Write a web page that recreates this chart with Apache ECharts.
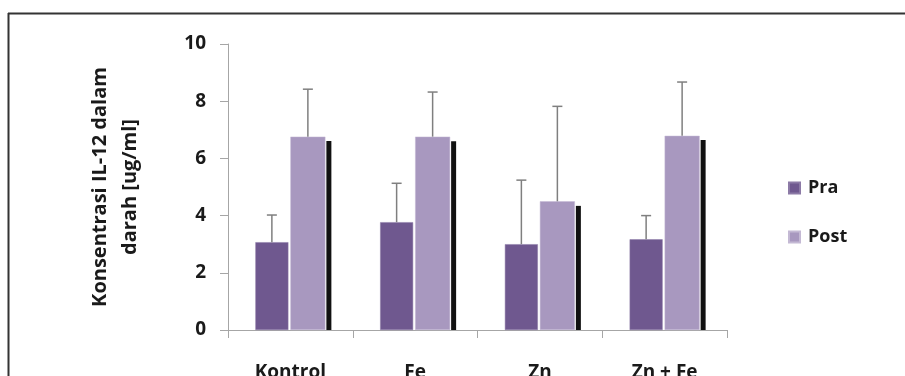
<!DOCTYPE html>
<html>
<head>
<meta charset="utf-8">
<script src="https://cdn.jsdelivr.net/npm/echarts@6/dist/echarts.min.js"></script>
<style>html,body{margin:0;padding:0;background:#fff;}#c{width:905px;height:376px;}</style>
</head>
<body>
<div id="c"></div>
<script>
// ---- data ----
const categories = ['Kontrol', 'Fe', 'Zn', 'Zn + Fe'];
const praMean = [3.07, 3.77, 3.0, 3.17];
const praSD = [0.95, 1.36, 2.24, 0.83];
const postMean = [6.76, 6.76, 4.5, 6.79];
const postSD = [1.66, 1.56, 3.32, 1.88];
const postShadow = [6.61, 6.6, 4.34, 6.64];
const yTicks = [0, 2, 4, 6, 8, 10];

// ---- style ----
const PRA_W = 33, POST_W = 35, GAP = 2, SHADOW_W = 5;
const FONT = '"Open Sans", sans-serif';
const TXT = '#1a1a1a';

const chart = echarts.init(document.getElementById('c'), null, {renderer: 'canvas'});

function errItem(offset) {
  return function (params, api) {
    const i = api.value(0);
    const top = api.coord([i, api.value(1) + api.value(2)]);
    const base = api.coord([i, api.value(1)]);
    const x = top[0] + offset;
    const style = {stroke: '#7f7f7f', lineWidth: 1.5};
    return {
      type: 'group',
      children: [
        {type: 'line', shape: {x1: x, y1: base[1], x2: x, y2: top[1]}, style},
        {type: 'line', shape: {x1: x - 5, y1: top[1], x2: x + 5, y2: top[1]}, style}
      ]
    };
  };
}

const total = PRA_W + GAP + POST_W;
const praCenter = -total / 2 + PRA_W / 2;
const postCenter = -total / 2 + PRA_W + GAP + POST_W / 2;

chart.setOption({
  animation: false,
  backgroundColor: '#fff',
  graphic: [
    {type: 'line', shape: {x1: 8, y1: 13.5, x2: 905, y2: 13.5}, style: {stroke: '#333', lineWidth: 2}},
    {type: 'line', shape: {x1: 8.5, y1: 13, x2: 8.5, y2: 376}, style: {stroke: '#333', lineWidth: 2}}
  ],
  grid: {left: 228, right: 178, top: 44, bottom: 46, containLabel: false, outerBoundsMode: 'none'},
  legend: {
    data: ['Pra', 'Post'],
    orient: 'vertical',
    left: 783,
    top: 173,
    itemWidth: 11,
    itemHeight: 11,
    itemGap: 29,
    icon: 'rect',
    textStyle: {fontFamily: FONT, fontWeight: 'bold', fontSize: 18, color: TXT, lineHeight: 20, padding: [0, 0, 0, 3]}
  },
  xAxis: {
    type: 'category',
    data: categories,
    axisLine: {lineStyle: {color: '#a6a6a6', width: 1}},
    axisTick: {show: true, length: 8, lineStyle: {color: '#a6a6a6'}},
    axisLabel: {margin: 33, fontFamily: FONT, fontWeight: 'bold', fontSize: 19, color: TXT}
  },
  yAxis: {
    type: 'value',
    min: yTicks[0],
    max: yTicks[yTicks.length - 1],
    interval: 2,
    name: 'Konsentrasi IL-12 dalam\ndarah [ug/ml]',
    nameLocation: 'middle',
    nameGap: 83,
    nameTextStyle: {fontFamily: FONT, fontWeight: 'bold', fontSize: 20, color: TXT, lineHeight: 30, align: 'center'},
    axisLine: {show: true, lineStyle: {color: '#a6a6a6', width: 1}},
    axisTick: {show: true, length: 8, lineStyle: {color: '#a6a6a6'}},
    splitLine: {show: false},
    axisLabel: {margin: 22, fontFamily: FONT, fontWeight: 'bold', fontSize: 19, color: TXT}
  },
  series: [
    {
      name: 'Pra', type: 'bar', data: praMean, barWidth: PRA_W, barGap: (GAP / PRA_W * 100) + '%',
      itemStyle: {color: '#6f588f', borderColor: '#8c7aa6', borderWidth: 0.5}
    },
    {
      name: 'Post', type: 'bar', data: postMean, barWidth: POST_W, barGap: (GAP / PRA_W * 100) + '%',
      itemStyle: {color: '#a898bf', borderColor: '#c4b9d4', borderWidth: 0.5}
    },
    {
      name: 'shadow', type: 'custom', z: 1,
      data: postShadow.map((v, i) => [i, v]),
      renderItem: function (params, api) {
        const i = api.value(0);
        const top = api.coord([i, api.value(1)]);
        const bot = api.coord([i, 0]);
        const x = top[0] + total / 2 + 1;
        return {type: 'rect', shape: {x: x, y: top[1], width: SHADOW_W, height: bot[1] - top[1]}, style: {fill: '#111'}};
      }
    },
    {
      name: 'praErr', type: 'custom', z: 3,
      data: praMean.map((v, i) => [i, v, praSD[i]]),
      renderItem: errItem(praCenter)
    },
    {
      name: 'postErr', type: 'custom', z: 3,
      data: postMean.map((v, i) => [i, v, postSD[i]]),
      renderItem: errItem(postCenter)
    }
  ]
});
</script>
</body>
</html>
